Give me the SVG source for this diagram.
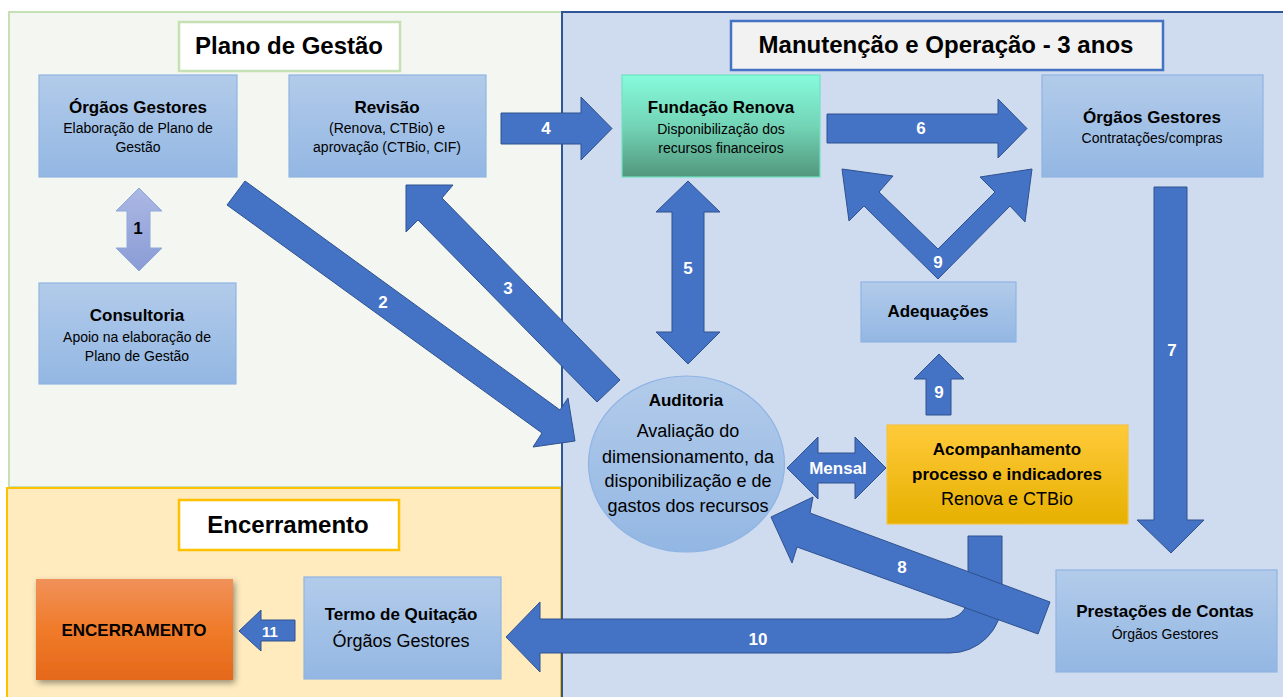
<svg xmlns="http://www.w3.org/2000/svg" width="1283" height="697" viewBox="0 0 1283 697">
<defs>
<linearGradient id="gBlue" x1="0" y1="0" x2="0" y2="1"><stop offset="0" stop-color="#b2cbea"/><stop offset="1" stop-color="#93b7e3"/></linearGradient>
<linearGradient id="gGreen" x1="0" y1="0" x2="0" y2="1"><stop offset="0" stop-color="#86fbdc"/><stop offset="0.5" stop-color="#73d4b6"/><stop offset="1" stop-color="#52977d"/></linearGradient>
<linearGradient id="gYellow" x1="0" y1="0" x2="0" y2="1"><stop offset="0" stop-color="#ffca3a"/><stop offset="1" stop-color="#e6b000"/></linearGradient>
<linearGradient id="gOrange" x1="0" y1="0" x2="0" y2="1"><stop offset="0" stop-color="#f09159"/><stop offset="0.5" stop-color="#f07b2a"/><stop offset="1" stop-color="#e5681a"/></linearGradient>
<linearGradient id="gLav" x1="0" y1="0" x2="0" y2="1"><stop offset="0" stop-color="#acb8e4"/><stop offset="1" stop-color="#8a9cd6"/></linearGradient>
<filter id="shadow" x="-10%" y="-10%" width="125%" height="130%"><feDropShadow dx="2" dy="3" stdDeviation="3" flood-color="#000" flood-opacity="0.4"/></filter>
</defs>
<style>
text{font-family:"Liberation Sans",Arial,sans-serif;text-anchor:middle;fill:#000}
.ttl{font-size:24px;font-weight:bold}
.bt{font-size:17px;font-weight:bold}
.st{font-size:14px}
.big{font-size:18px}
.lbl{font-size:17px;font-weight:bold;fill:#fff}
.box{fill:url(#gBlue);stroke:#8fb4e3;stroke-width:1.2}
.arr{fill:#4472c4;stroke:#2f528f;stroke-width:1}
</style>
<rect x="0" y="0" width="1283" height="697" fill="#ffffff"/>
<g id="panel-plano"><rect x="9" y="12" width="553" height="475" fill="#f4f7f1" stroke="#c5e0b4" stroke-width="2"/></g>
<g id="panel-encerramento"><rect x="7" y="488" width="554" height="220" fill="#ffebbe" stroke="#ffc000" stroke-width="2"/></g>
<g id="panel-manutencao"><rect x="562" y="12" width="730" height="700" fill="#cfdbee" stroke="#2f5597" stroke-width="2"/></g>

<g id="title-plano"><rect x="179" y="22" width="221" height="49" fill="#fff" stroke="#c5e0b4" stroke-width="2.5"/><text class="ttl" x="289" y="54">Plano de Gestão</text></g>
<g id="title-manutencao"><rect x="731" y="21" width="432" height="49" fill="#f2f2f2" stroke="#4472c4" stroke-width="2.5"/><text class="ttl" x="946" y="53">Manutenção e Operação - 3 anos</text></g>
<g id="title-encerramento"><rect x="179" y="500" width="220" height="50" fill="#fff" stroke="#ffc000" stroke-width="2.5"/><text class="ttl" x="288" y="533">Encerramento</text></g>

<g id="connectors">
<polygon id="c1" points="139,188 162,211 150,211 150,248 162,248 139,271 116,248 127,248 127,211 116,211" fill="url(#gLav)" stroke="#8fa8dc" stroke-width="1"/>
<text x="138" y="234" class="bt">1</text>
<polygon id="c2" class="arr" points="245,181 560,410 568,398 575,441 533,447 542,433 227,205"/>
<text x="383" y="308" class="lbl">2</text>
<polygon id="c3" class="arr" points="406,185 453,185 442,198 620,380 597,402 418,220 406,232"/>
<text x="508" y="294" class="lbl">3</text>
<polygon id="c4" class="arr" points="501,113 581,113 581,97 612,128.5 581,160 581,144 501,144"/>
<text x="546" y="134" class="lbl">4</text>
<polygon id="c5" class="arr" points="688,181 720,212 704,212 704,332 720,332 688,364 656,332 672,332 672,212 656,212"/>
<text x="688" y="274" class="lbl">5</text>
<polygon id="c6" class="arr" points="827,114 998,114 998,99 1027,128.5 998,158 998,143 827,143"/>
<text x="921" y="134" class="lbl">6</text>
<polygon id="c7" class="arr" points="1154,187 1187,187 1187,520 1204,520 1171,553 1137,520 1154,520"/>
<text x="1172" y="356" class="lbl">7</text>
<polygon id="c9v" class="arr" points="938,279 864,206 849,221 842,169 893,176 879,192 938,249 995,192 980,177 1032,169 1025,222 1010,206"/>
<text x="938" y="268" class="lbl">9</text>
<polygon id="c9u" class="arr" points="926,415 926,379 914,379 939,354 964,379 951,379 951,415"/>
<text x="939" y="398" class="lbl">9</text>
<polygon id="cMensal" class="arr" points="787,468 818,437 818,453 855,453 855,437 886,468 855,499 855,483 818,483 818,499"/>
<text x="838" y="474" class="lbl">Mensal</text>
<path id="c10" class="arr" d="M968,536 L1002,536 L1002,601 A52,52 0 0 1 950,653 L540,653 L540,672 L506,637 L540,602 L540,619 L946,619 A22,22 0 0 0 968,597 Z"/>
<text x="758" y="645" class="lbl">10</text>
<polygon id="c8" class="arr" points="771,517 813,497 810,513 1050,602 1038,634 797,547 792,563"/>
<text x="902" y="573" class="lbl">8</text>
<polygon id="c11" class="arr" points="239,631 261,610 261,620 295,620 295,641 261,641 261,651"/>
<text x="270" y="637" class="lbl" style="font-size:15px">11</text>
</g>

<g id="n-orgaos1"><rect class="box" x="39" y="75" width="198" height="102"/><text class="bt" x="138" y="113">Órgãos Gestores</text><text class="st" x="138" y="133">Elaboração de Plano de</text><text class="st" x="138" y="152">Gestão</text></g>
<g id="n-revisao"><rect class="box" x="289" y="75" width="197" height="102"/><text class="bt" x="387" y="113">Revisão</text><text class="st" x="387" y="133">(Renova, CTBio) e</text><text class="st" x="387" y="152">aprovação (CTBio, CIF)</text></g>
<g id="n-consultoria"><rect class="box" x="39" y="283" width="197" height="101"/><text class="bt" x="137" y="321">Consultoria</text><text class="st" x="137" y="342">Apoio na elaboração de</text><text class="st" x="137" y="361">Plano de Gestão</text></g>
<g id="n-fundacao"><rect x="622" y="75" width="198" height="102" fill="url(#gGreen)" stroke="#6fe3c2" stroke-width="1.2"/><text class="bt" x="721" y="113">Fundação Renova</text><text class="st" x="721" y="134">Disponibilização dos</text><text class="st" x="721" y="153">recursos financeiros</text></g>
<g id="n-orgaos2"><rect class="box" x="1042" y="75" width="221" height="102"/><text class="bt" x="1152" y="123">Órgãos Gestores</text><text class="st" x="1152" y="143">Contratações/compras</text></g>
<g id="n-adequacoes"><rect class="box" x="861" y="282" width="155" height="60"/><text class="bt" x="938" y="317">Adequações</text></g>
<g id="n-auditoria"><ellipse cx="686.5" cy="464" rx="98" ry="88" fill="url(#gBlue)" stroke="#8fb4e3" stroke-width="1.2"/><text class="bt" x="686" y="406">Auditoria</text><text class="big" x="688" y="437">Avaliação do</text><text class="big" x="688" y="463">dimensionamento, da</text><text class="big" x="688" y="487">disponibilização e de</text><text class="big" x="688" y="512">gastos dos recursos</text></g>
<g id="n-acompanhamento"><rect x="887" y="425" width="241" height="99" fill="url(#gYellow)" stroke="#f5c242" stroke-width="1.2"/><text class="bt" x="1007" y="455">Acompanhamento</text><text class="bt" x="1007" y="480">processo e indicadores</text><text class="big" x="1007" y="505">Renova e CTBio</text></g>
<g id="n-prestacoes"><rect class="box" x="1056" y="570" width="221" height="102"/><text class="bt" x="1165" y="617">Prestações de Contas</text><text class="st" x="1165" y="639">Órgãos Gestores</text></g>
<g id="n-termo"><rect class="box" x="304" y="577" width="197" height="102"/><text class="bt" x="401" y="620">Termo de Quitação</text><text class="big" x="401" y="647">Órgãos Gestores</text></g>
<g id="n-encerramento"><rect x="36" y="579" width="197" height="101" fill="url(#gOrange)" filter="url(#shadow)"/><text class="bt" x="134" y="636">ENCERRAMENTO</text></g>
</svg>
